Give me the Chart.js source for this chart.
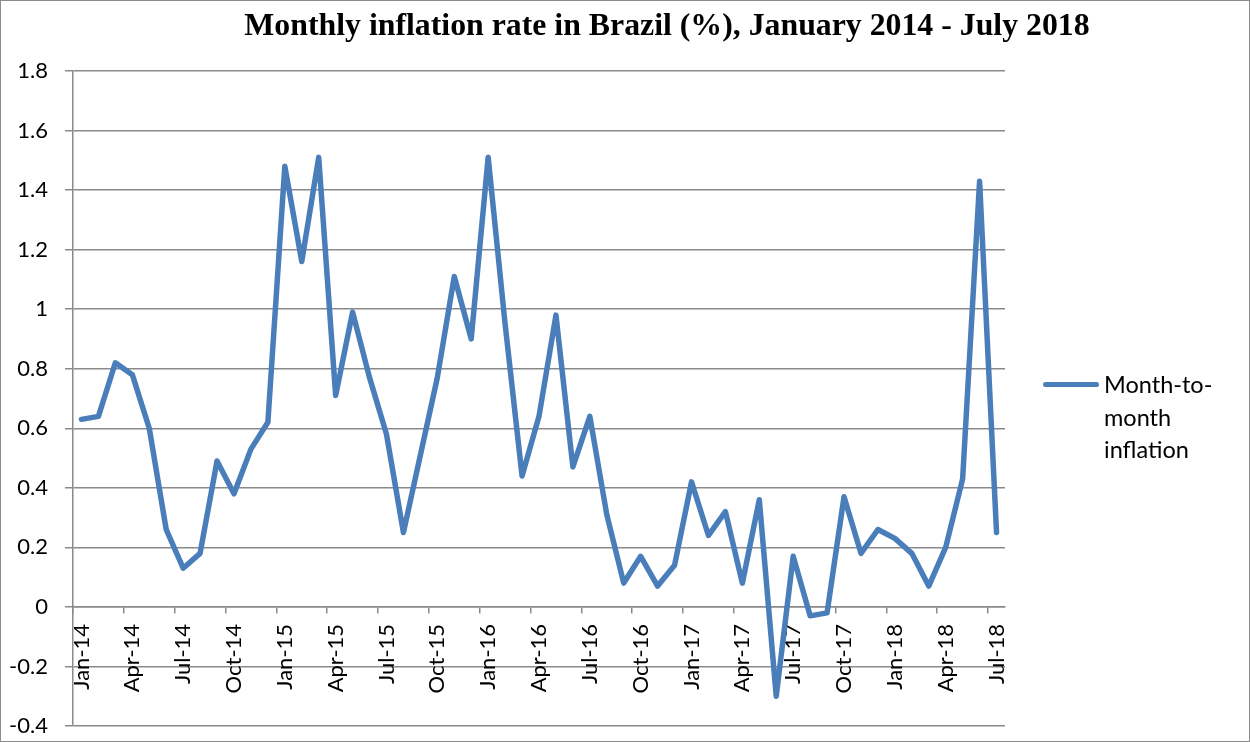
<!DOCTYPE html>
<html>
<head>
<meta charset="utf-8">
<script src="https://cdn.jsdelivr.net/npm/chart.js@4/dist/chart.umd.min.js"></script>
<style>
  html, body { margin: 0; padding: 0; background: #fff; }
  #wrap { position: relative; width: 1250px; height: 742px; box-sizing: border-box; border: 1px solid #8c8c8c; overflow: hidden; }
  #chart { position: absolute; left: -1px; top: -1px; }
  #title { position: absolute; left: 0; top: 6px; width: 1332px; text-align: center;
           font-family: "Liberation Serif", "Times New Roman", serif; font-weight: bold; font-size: 31.8px; color: #000; }
  #legend { position: absolute; left: 1042px; top: 367px; font-family: Lato, sans-serif; font-size: 23.5px; line-height: 32.5px; color: #000; }
  #legend .swatch { position: absolute; left: 0; top: 14px; width: 56px; height: 5px; border-radius: 3px; background: #4a7ebb; }
  #legend .text { margin-left: 61px; }
</style>
</head>
<body>
<div id="wrap">
  <canvas id="chart" width="1250" height="742"></canvas>
  <div id="title">Monthly inflation rate in Brazil (%), January 2014 - July 2018</div>
  <div id="legend"><div class="swatch"></div><div class="text">Month-to-<br>month<br>inflation</div></div>
</div>
<script>
// Month labels, Jan 2014 to Jul 2018
const months = [
  'Jan-14','Feb-14','Mar-14','Apr-14','May-14','Jun-14','Jul-14','Aug-14','Sep-14','Oct-14','Nov-14','Dec-14',
  'Jan-15','Feb-15','Mar-15','Apr-15','May-15','Jun-15','Jul-15','Aug-15','Sep-15','Oct-15','Nov-15','Dec-15',
  'Jan-16','Feb-16','Mar-16','Apr-16','May-16','Jun-16','Jul-16','Aug-16','Sep-16','Oct-16','Nov-16','Dec-16',
  'Jan-17','Feb-17','Mar-17','Apr-17','May-17','Jun-17','Jul-17','Aug-17','Sep-17','Oct-17','Nov-17','Dec-17',
  'Jan-18','Feb-18','Mar-18','Apr-18','May-18','Jun-18','Jul-18'
];

// Month-to-month inflation (%)
const inflation = [
  0.63, 0.64, 0.82, 0.78, 0.60, 0.26, 0.13, 0.18, 0.49, 0.38, 0.53, 0.62,
  1.48, 1.16, 1.51, 0.71, 0.99, 0.77, 0.58, 0.25, 0.51, 0.77, 1.11, 0.90,
  1.51, 0.95, 0.44, 0.64, 0.98, 0.47, 0.64, 0.31, 0.08, 0.17, 0.07, 0.14,
  0.42, 0.24, 0.32, 0.08, 0.36, -0.30, 0.17, -0.03, -0.02, 0.37, 0.18, 0.26,
  0.23, 0.18, 0.07, 0.20, 0.43, 1.43, 0.25
];

const yMin = -0.4;
const yMax = 1.8;
const yStep = 0.2;
const labelEvery = 3;

const gridGray = '#8a8a8a';

new Chart(document.getElementById('chart').getContext('2d'), {
    type: 'line',
    data: {
        labels: months,
        datasets: [{
            label: 'Month-to-month inflation',
            data: inflation,
            borderColor: '#4a7ebb',
            borderWidth: 5.5,
            borderJoinStyle: 'round',
            borderCapStyle: 'round',
            pointRadius: 0,
            tension: 0,
            fill: false
        }]
    },
    options: {
        responsive: false,
        animation: false,
        layout: { padding: { left: 0, right: 245, top: 71, bottom: 16 } },
        plugins: {
            legend: { display: false },
            title: { display: false },
            tooltip: { enabled: false }
        },
        scales: {
            x: {
                position: { y: 0 },
                offset: true,
                afterFit: scale => {
                    scale.height = 0;
                    scale.paddingTop = 0;
                    scale.paddingBottom = 0;
                },
                grid: {
                    offset: true,
                    drawOnChartArea: false,
                    tickLength: 6,
                    lineWidth: 1.5,
                    color: ctx => (ctx.index % labelEvery === 0 ? gridGray : 'rgba(0,0,0,0)')
                },
                border: { color: gridGray, width: 1.5 },
                ticks: {
                    autoSkip: false,
                    minRotation: 90,
                    maxRotation: 90,
                    padding: 11,
                    color: '#000',
                    font: { family: 'Lato', size: 22 },
                    callback: (v, i) => (i % labelEvery === 0 ? months[i] : '')
                }
            },
            y: {
                min: yMin,
                max: yMax,
                afterFit: scale => {
                    scale.width = 73;
                    scale.paddingTop = 0;
                    scale.paddingBottom = 0;
                },
                grid: { color: gridGray, lineWidth: 1.5, tickLength: 8 },
                border: { color: gridGray, width: 1.5 },
                ticks: {
                    stepSize: yStep,
                    padding: 17,
                    color: '#000',
                    font: { family: 'Lato', size: 22 },
                    callback: v => String(Number(v.toFixed(1)))
                }
            }
        }
    }
});
</script>
</body>
</html>
